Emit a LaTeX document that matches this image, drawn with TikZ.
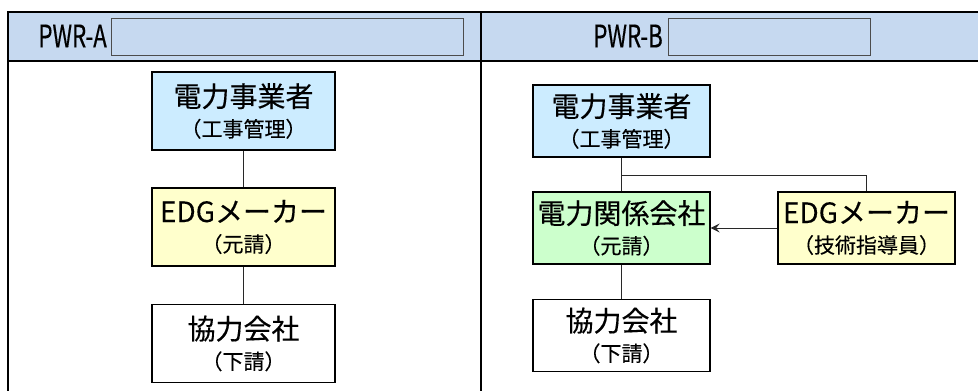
\documentclass[tikz,border=0pt]{standalone}
\usepackage{fontspec}
\newfontfamily\jp[FakeBold=0.3]{Noto Sans CJK JP}
\newfontfamily\hdr[FakeStretch=0.72,FakeBold=0.4]{Noto Sans CJK JP}
\usetikzlibrary{arrows.meta}
\definecolor{hdrbg}{RGB}{198,217,240}
\definecolor{fblue}{RGB}{204,236,255}
\definecolor{fyellow}{RGB}{255,255,204}
\definecolor{fgreen}{RGB}{204,255,204}
\definecolor{conn}{RGB}{40,40,40}
\newcommand\twoline[2]{{\fontsize{28}{30}\selectfont #1}\\{\fontsize{21}{30}\selectfont #2}}
\tikzset{
  tbl/.style={line width=2pt, black},
  hbox/.style={draw=black!70, line width=0.8pt, fill=hdrbg, minimum height=37pt, inner sep=0pt},
  htext/.style={font=\hdr\fontsize{31}{32}\selectfont, inner sep=0pt, anchor=east},
  orgbox/.style={draw=black, line width=1.3pt, inner sep=0pt, align=center,
    font=\jp\fontsize{28}{30}\selectfont},
  leftbox/.style={orgbox, minimum width=183pt, minimum height=78pt},
  rightbox/.style={orgbox, minimum width=177pt, minimum height=72pt},
  link/.style={draw=conn, line width=1pt},
}
\begin{document}
\begin{tikzpicture}[x=1pt,y=-1pt]
\useasboundingbox (0,0) rectangle (978,391);
\fill[hdrbg] (8,12) rectangle (978,61);
% header
\node[hbox, minimum width=352pt] (ha) at (287,36.5) {};
\node[hbox, minimum width=202pt] (hb) at (769,36.5) {};
\node[htext] (ta) at (107,36) {PWR-A};
\node[htext] (tb) at (663,36) {PWR-B};
% table lines
\draw[tbl] (8,391) -- (8,12) -- (978,12);
\draw[tbl] (8,61) -- (978,61);
\draw[tbl] (481,12) -- (481,391);
% left
\node[leftbox, fill=fblue] (la) at (243.5,111) {\twoline{電力事業者}{（工事管理）}};
\node[leftbox, fill=fyellow] (lb) at (243.5,227) {\twoline{EDGメーカー}{（元請）}};
\node[leftbox, fill=white] (lc) at (243.5,343.5) {\twoline{協力会社}{（下請）}};
\draw[link] (la) -- (lb);
\draw[link] (lb) -- (lc);
% right
\node[rightbox, fill=fblue] (ra) at (621.5,121) {\twoline{電力事業者}{（工事管理）}};
\node[rightbox, fill=fgreen] (rb) at (621.5,228) {\twoline{電力関係会社}{（元請）}};
\node[rightbox, fill=white] (rc) at (621.5,335.5) {\twoline{協力会社}{（下請）}};
\node[rightbox, fill=fyellow] (re) at (866.5,228) {\twoline{EDGメーカー}{（技術指導員）}};
\draw[link] (ra) -- (rb);
\draw[link] (rb) -- (rc);
\coordinate (lvl) at (700,175);
\coordinate (br) at (ra.south |- lvl);
\draw[link] (br) -| (re.north);
\draw[link, -{Stealth[length=9pt,width=9pt,inset=3.5pt]}] (re.west) -- (rb.east);
\end{tikzpicture}
\end{document}
